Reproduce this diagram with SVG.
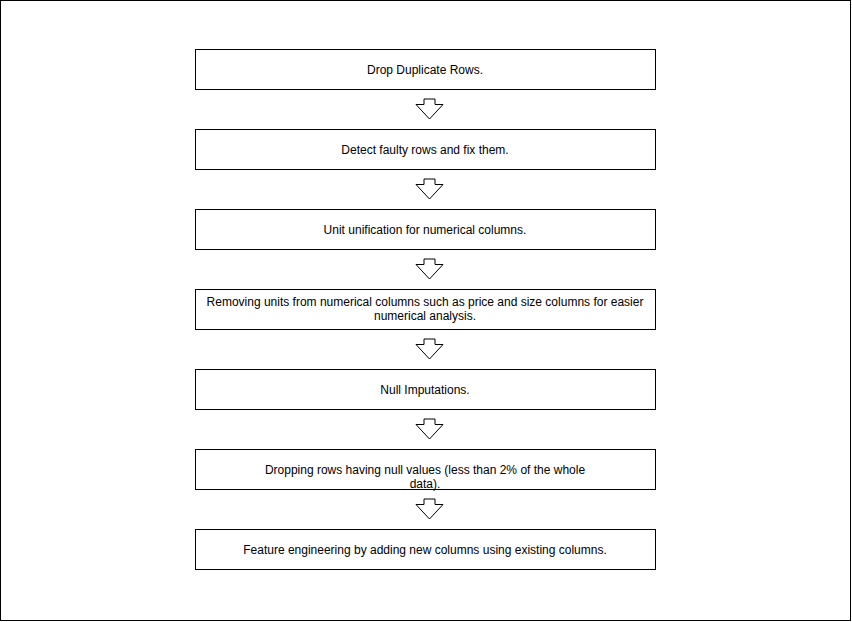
<svg xmlns="http://www.w3.org/2000/svg" width="852" height="622" viewBox="0 0 852 622">
<style>
.box{fill:#fff;stroke:#000;stroke-width:1}
.arr{fill:#fff;stroke:#000;stroke-width:1;stroke-linejoin:miter}
text{font-family:"Liberation Sans",Arial,sans-serif;font-size:12px;fill:#000;text-anchor:middle}
</style>
<defs>
<path id="arrow" class="arr" d="M-5.5,0 L5.5,0 L5.5,5.5 L13.5,5.5 L0,20 L-13.5,5.5 L-5.5,5.5 Z"/>
</defs>
<rect x="0.5" y="0.5" width="850" height="620" fill="#fff" stroke="#000"/>
<g id="connectors">
<use href="#arrow" x="429.5" y="99"/>
<use href="#arrow" x="429.5" y="179"/>
<use href="#arrow" x="429.5" y="259"/>
<use href="#arrow" x="429.5" y="339"/>
<use href="#arrow" x="429.5" y="419"/>
<use href="#arrow" x="429.5" y="499"/>
</g>
<g id="n1"><rect class="box" x="195.5" y="49.5" width="460" height="40"/><text x="425" y="74">Drop Duplicate Rows.</text></g>
<g id="n2"><rect class="box" x="195.5" y="129.5" width="460" height="40"/><text x="425" y="154">Detect faulty rows and fix them.</text></g>
<g id="n3"><rect class="box" x="195.5" y="209.5" width="460" height="40"/><text x="425" y="234">Unit unification for numerical columns.</text></g>
<g id="n4"><rect class="box" x="195.5" y="289.5" width="460" height="40"/><text x="425" y="306">Removing units from numerical columns such as price and size columns for easier</text><text x="425" y="320">numerical analysis.</text></g>
<g id="n5"><rect class="box" x="195.5" y="369.5" width="460" height="40"/><text x="425" y="394">Null Imputations.</text></g>
<g id="n6"><rect class="box" x="195.5" y="449.5" width="460" height="40"/><text x="425" y="474">Dropping rows having null values (less than 2% of the whole</text><text x="425" y="488">data).</text></g>
<g id="n7"><rect class="box" x="195.5" y="529.5" width="460" height="40"/><text x="425" y="554">Feature engineering by adding new columns using existing columns.</text></g>
</svg>
